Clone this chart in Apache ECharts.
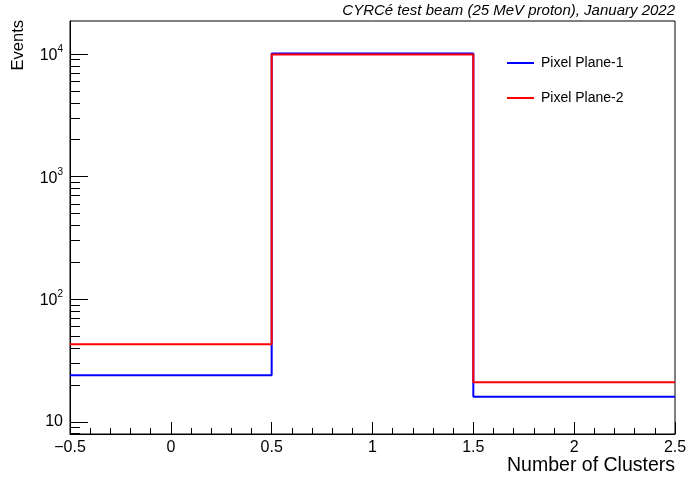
<!DOCTYPE html>
<html>
<head>
<meta charset="utf-8">
<script src="https://cdn.jsdelivr.net/npm/echarts@6/dist/echarts.min.js"></script>
<style>
  html, body { margin: 0; padding: 0; background: #fff; }
  #chart { width: 686px; height: 483px; }
</style>
</head>
<body>
<div id="chart"></div>
<script>
// bin edges of the histogram
const binEdges = [-0.5, 0.5, 1.5, 2.5];
// entries per bin
const plane1Counts = [24, 10090, 16];
const plane2Counts = [43, 9910, 21];
const seriesNames = ['Pixel Plane-1', 'Pixel Plane-2'];
// y axis (log) range and decades
const yRange = [7.95, 18600];
const yDecades = [10, 100, 1000, 10000];
const xTicks = { min: -0.5, max: 2.5, step: 0.5 };

const FONT = 'Liberation Sans, Arial, Helvetica, sans-serif';
const log10 = v => Math.log10(v);

// step line points: left edge of each bin, plus the last upper edge
function histPoints(counts) {
  const pts = counts.map((c, i) => [binEdges[i], log10(c)]);
  pts.push([binEdges[binEdges.length - 1], log10(counts[counts.length - 1])]);
  return pts;
}

// minor ticks 2..9 x 10^n inside the range
const yMinor = [];
[1, 10, 100, 1000, 10000].forEach(d => {
  for (let k = 2; k <= 9; k++) {
    const v = k * d;
    if (v >= yRange[0] && v <= yRange[1] && yDecades.indexOf(v) < 0) yMinor.push(log10(v));
  }
});
const yMajor = yDecades.map(log10);

const chart = echarts.init(document.getElementById('chart'));
const yBase = {
  type: 'value',
  position: 'left',
  min: log10(yRange[0]),
  max: log10(yRange[1]),
  splitLine: { show: false }
};

chart.setOption({
  animation: false,
  backgroundColor: '#fff',
  textStyle: { fontFamily: FONT },
  title: {
    text: 'CYRCé test beam (25 MeV proton), January 2022',
    right: 11,
    top: 3,
    padding: 0,
    textStyle: { fontFamily: FONT, fontStyle: 'italic', fontWeight: 'normal', fontSize: 15, color: '#000' }
  },
  legend: {
    data: seriesNames,
    orient: 'vertical',
    left: 507,
    top: 56,
    padding: 0,
    icon: 'rect',
    itemWidth: 27,
    itemHeight: 2,
    itemGap: 21,
    textStyle: { fontFamily: FONT, fontSize: 14, color: '#000', padding: [0, 0, 0, 2] }
  },
  grid: {
    left: 70, right: 11, top: 21, bottom: 49,
    outerBoundsMode: 'none',
    show: true, borderColor: '#000', borderWidth: 1
  },
  xAxis: {
    type: 'value',
    min: xTicks.min,
    max: xTicks.max,
    interval: xTicks.step,
    splitLine: { show: false },
    axisLine: { onZero: false, lineStyle: { color: '#000', width: 1 } },
    axisTick: { inside: true, length: 12, lineStyle: { color: '#000' } },
    minorTick: { show: true, splitNumber: 5, length: 6, lineStyle: { color: '#000' } },
    axisLabel: {
      fontSize: 16, color: '#000', margin: 6, fontFamily: FONT,
      formatter: v => (v < 0 ? '\u2212' + Math.abs(v) : String(v))
    }
  },
  yAxis: [
    Object.assign({}, yBase, {
      axisLine: { show: true, onZero: false, lineStyle: { color: '#000', width: 1 } },
      axisTick: { show: true, inside: true, length: 18, customValues: yMajor, lineStyle: { color: '#000' } },
      axisLabel: {
        customValues: yMajor,
        margin: 7,
        color: '#000',
        fontFamily: FONT,
        formatter: v => {
          const n = Math.round(v);
          return n === 1 ? '{b|10}' : '{b|10}{s|' + n + '}';
        },
        rich: {
          b: { fontSize: 16, fontFamily: FONT, color: '#000', verticalAlign: 'bottom' },
          s: { fontSize: 10, fontFamily: FONT, color: '#000', verticalAlign: 'bottom', padding: [0, 0, 9, 0] }
        }
      }
    }),
    Object.assign({}, yBase, {
      axisLine: { show: false, onZero: false },
      axisLabel: { show: false },
      axisTick: { show: true, inside: true, length: 10, customValues: yMinor, lineStyle: { color: '#000' } }
    })
  ],
  series: [
    {
      name: seriesNames[0],
      type: 'line',
      step: 'end',
      symbol: 'none',
      data: histPoints(plane1Counts),
      color: '#0000ff',
      lineStyle: { color: '#0000ff', width: 2 }
    },
    {
      name: seriesNames[1],
      type: 'line',
      step: 'end',
      symbol: 'none',
      data: histPoints(plane2Counts),
      color: '#ff0000',
      lineStyle: { color: '#ff0000', width: 2 }
    }
  ],
  graphic: [
    {
      type: 'text',
      right: 11,
      top: 456,
      style: { text: 'Number of Clusters', font: '19.5px ' + FONT, fill: '#000' }
    },
    {
      type: 'text',
      x: 18,
      y: 20,
      rotation: Math.PI / 2,
      style: { text: 'Events', font: '16.5px ' + FONT, fill: '#000', align: 'right', verticalAlign: 'middle' }
    }
  ]
});
</script>
</body>
</html>
